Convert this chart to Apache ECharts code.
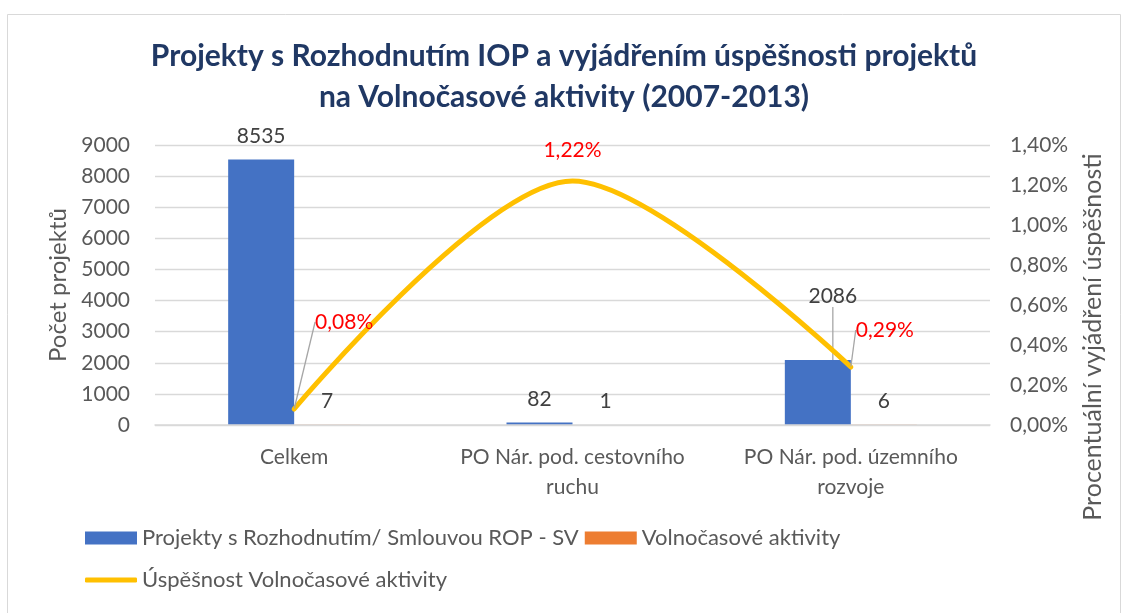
<!DOCTYPE html>
<html>
<head>
<meta charset="utf-8">
<script src="https://cdn.jsdelivr.net/npm/echarts@6/dist/echarts.min.js"></script>
<style>
  html, body { margin: 0; padding: 0; background: #fff; }
  #chart { width: 1128px; height: 613px; }
</style>
</head>
<body>
<div id="chart"></div>
<script>
const categories = ['Celkem', 'PO Nár. pod. cestovního\nruchu', 'PO Nár. pod. územního\nrozvoje']
const projekty = [8535, 82, 2086]
const volnocas = [7, 1, 6]
const uspesnost = [0.0008, 0.0122, 0.0029]
const leftTicks = { min: 0, max: 9000, interval: 1000 }
const rightTicks = { min: 0, max: 0.014, interval: 0.002 }

const FONT = 'Lato'
const grey = '#595959'
const pct = v => (v * 100).toFixed(2).replace('.', ',') + '%'

const chart = echarts.init(document.getElementById('chart'))

// only the 2086 label gets a leader line
const projektyData = projekty.map((v, i) => ({
  value: v,
  labelLine: { show: i === 2 }
}))
const uspesnostData = uspesnost.map((v, i) => ({
  value: v,
  labelLine: { show: i !== 1 }
}))

chart.setOption({
  backgroundColor: '#fff',
  textStyle: { fontFamily: FONT },
  title: {
    text: 'Projekty s Rozhodnutím IOP a vyjádřením úspěšnosti projektů\nna Volnočasové aktivity (2007-2013)',
    left: 'center',
    top: 31,
    textStyle: { fontSize: 30, fontWeight: 'bold', color: '#203864', lineHeight: 41, fontFamily: FONT }
  },
  graphic: [{
    type: 'rect',
    shape: { x: 7.5, y: 14.5, width: 1113, height: 620 },
    style: { fill: 'none', stroke: '#d9d9d9', lineWidth: 1 },
    silent: true
  }, {
    type: 'text',
    x: 1093,
    y: 337,
    rotation: Math.PI / 2,
    style: {
      text: 'Procentuální vyjádření úspěšnosti',
      fontSize: 25, fill: grey, fontFamily: FONT,
      align: 'center', verticalAlign: 'middle'
    },
    silent: true
  }],
  legend: [{
    data: ['Projekty s Rozhodnutím/ Smlouvou ROP - SV', 'Volnočasové aktivity'],
    left: 85, top: 527, padding: 0,
    itemWidth: 52, itemHeight: 13, itemGap: 6,
    icon: 'rect',
    textStyle: { fontSize: 22, color: grey, fontFamily: FONT }
  }, {
    data: ['Úspěšnost Volnočasové aktivity'],
    left: 85, top: 569, padding: 0,
    itemWidth: 52, itemHeight: 5,
    icon: 'roundRect',
    textStyle: { fontSize: 22, color: grey, fontFamily: FONT }
  }],
  grid: { left: 155, right: 138, top: 145, bottom: 188 },
  xAxis: {
    type: 'category',
    data: categories,
    z: 3,
    axisLine: { lineStyle: { color: '#d9d9d9', width: 1.5 } },
    axisTick: { show: false },
    axisLabel: { interval: 0, fontSize: 21, color: grey, lineHeight: 30, margin: 17, fontFamily: FONT }
  },
  yAxis: [{
    type: 'value',
    min: leftTicks.min, max: leftTicks.max, interval: leftTicks.interval,
    name: 'Počet projektů',
    nameLocation: 'middle',
    nameGap: 80,
    nameRotate: 90,
    nameTextStyle: { fontSize: 24, color: grey, fontFamily: FONT },
    axisLine: { show: false },
    axisTick: { show: false },
    axisLabel: { fontSize: 21, color: grey, margin: 25, fontFamily: FONT, formatter: v => String(v) },
    splitLine: { lineStyle: { color: '#d9d9d9', width: 1.3 } }
  }, {
    type: 'value',
    min: rightTicks.min, max: rightTicks.max, interval: rightTicks.interval,
    position: 'right',
    axisLine: { show: false },
    axisTick: { show: false },
    axisLabel: { fontSize: 21, color: grey, margin: 20, formatter: pct, fontFamily: FONT },
    splitLine: { show: false }
  }],
  series: [{
    name: 'Projekty s Rozhodnutím/ Smlouvou ROP - SV',
    type: 'bar',
    data: projektyData,
    barWidth: 66,
    barGap: '0%',
    itemStyle: { color: '#4472C4' },
    label: { show: true, position: 'top', distance: 13, fontSize: 21, color: '#404040', fontFamily: FONT },
    labelLine: { lineStyle: { color: '#a6a6a6', width: 1.3 } },
    labelLayout: p => p.dataIndex === 2 ? { dx: 15, dy: -40 } : {}
  }, {
    name: 'Volnočasové aktivity',
    type: 'bar',
    data: volnocas,
    barWidth: 66,
    itemStyle: { color: '#ED7D31' },
    label: { show: true, position: 'top', distance: 13, fontSize: 21, color: '#404040', fontFamily: FONT }
  }, {
    name: 'Úspěšnost Volnočasové aktivity',
    type: 'line',
    yAxisIndex: 1,
    data: uspesnostData,
    smooth: 0.3,
    symbol: 'circle',
    symbolSize: 1,
    showSymbol: true,
    itemStyle: { color: '#FFC000' },
    lineStyle: { color: '#FFC000', width: 5, cap: 'round' },
    label: {
      show: true, position: 'top', distance: 5, fontSize: 21, color: '#FF0000',
      formatter: p => pct(p.value), fontFamily: FONT
    },
    labelLine: { lineStyle: { color: '#a6a6a6', width: 1.3 } },
    labelLayout: p => {
      if (p.dataIndex === 0) return { dx: 50, dy: -71 }
      if (p.dataIndex === 1) return { dy: -15 }
      return { dx: 34, dy: -21 }
    }
  }]
})
</script>
</body>
</html>
